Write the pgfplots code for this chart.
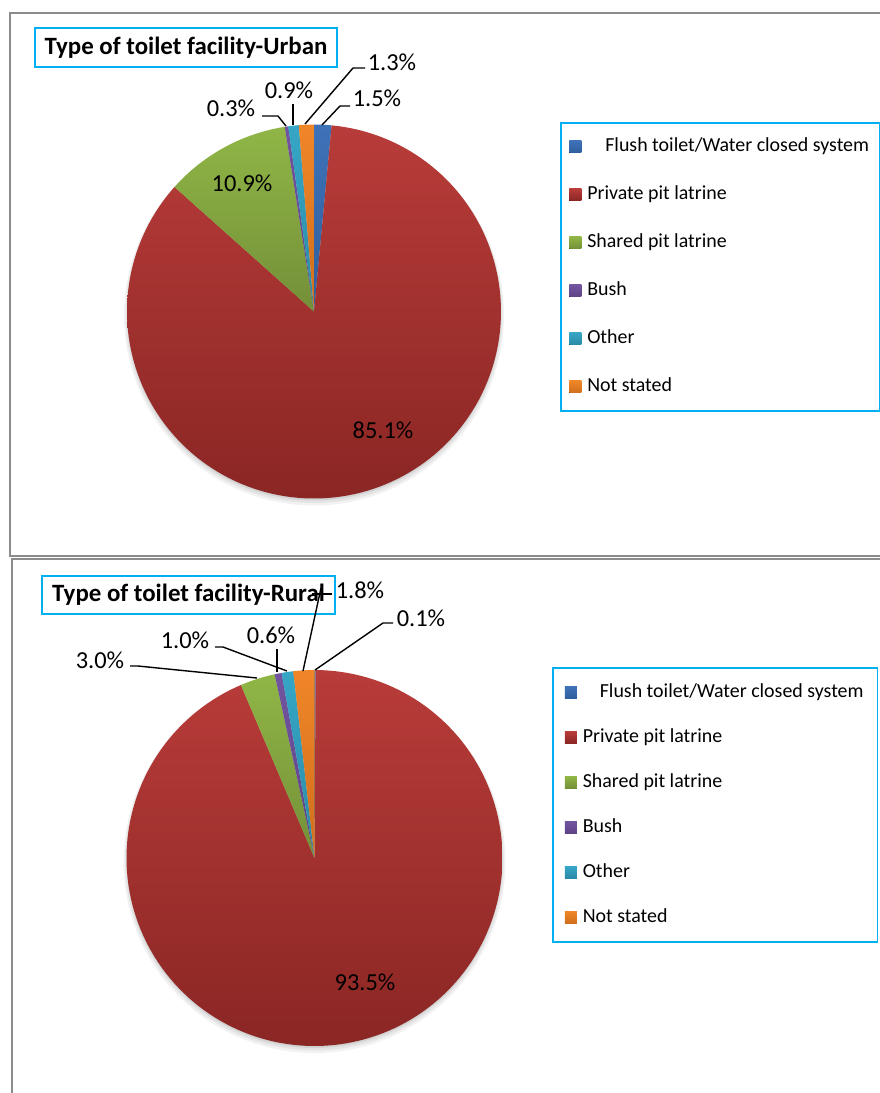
\documentclass[border=0pt]{standalone}
\usepackage{fontspec}
\setmainfont{Carlito}
\usepackage{pgfplots}
\pgfplotsset{compat=1.18}
\definecolor{cBlueT}{HTML}{3E72B8}\definecolor{cBlueB}{HTML}{2F5E9C}
\definecolor{cRedT}{HTML}{B83C39}\definecolor{cRedB}{HTML}{8A2624}
\definecolor{cGreenT}{HTML}{90B646}\definecolor{cGreenB}{HTML}{738F38}
\definecolor{cPurT}{HTML}{7254A0}\definecolor{cPurB}{HTML}{5E4386}
\definecolor{cTealT}{HTML}{36A6C6}\definecolor{cTealB}{HTML}{2A8AA6}
\definecolor{cOrT}{HTML}{F08628}\definecolor{cOrB}{HTML}{CF6E1C}
\definecolor{boxcyan}{HTML}{00B0F0}
\definecolor{panelgray}{HTML}{8C8C8C}

% cx cy r cumulative-before value colorTop colorBottom
\newcommand\pieslice[7]{%
 \pgfmathsetmacro\aS{90-3.6*#4}%
 \pgfmathsetmacro\aE{90-3.6*(#4+#5)}%
 \pgfmathtruncatemacro\ns{max(4,ceil(1.8*#5)+2)}%
 \edef\tmp{\noexpand\addplot[draw=none, top color=#6, bottom color=#7, domain=\aE:\aS, samples=\ns] ({#1+#3*cos(x)},{#2-#3*sin(x)}) -- (axis cs:#1,#2) -- cycle;}%
 \tmp}
\newcommand\pieshadow[3]{%
 \addplot[forget plot, draw=none, fill=black, fill opacity=0.05, domain=0:360, samples=121] ({#1+(#3+3)*cos(x)},{#2+4-(#3+3)*sin(x)}) -- cycle;
 \addplot[forget plot, draw=none, fill=black, fill opacity=0.06, domain=0:360, samples=121] ({#1+(#3+1.5)*cos(x)},{#2+3-(#3+1.5)*sin(x)}) -- cycle;
 \addplot[forget plot, draw=none, fill=black, fill opacity=0.08, domain=0:360, samples=121] ({#1+#3*cos(x)},{#2+2-#3*sin(x)}) -- cycle;
}
\newcommand\lbl{\fontsize{24.5}{29}\selectfont}
\tikzset{lead/.style={black, line width=1.4bp}}

\begin{document}
\begin{tikzpicture}
% ---------------- Urban ----------------
\begin{axis}[
 at={(0,0)}, anchor=north west,
 scale only axis, width=880bp, height=557.5bp,
 xmin=0, xmax=880, ymin=0, ymax=557.5, y dir=reverse,
 hide axis, clip=false,
 legend cell align=left,
 legend image code/.code={\fill[#1] (0bp,-6bp) rectangle (12bp,6bp); \path (16bp,0bp);},
 legend style={at={(axis cs:560,122)}, anchor=north west, draw=boxcyan, line width=1.6bp,
   inner xsep=8.5bp, inner ysep=13bp, row sep=26bp, font=\fontsize{20}{24}\selectfont,
   nodes={inner sep=2bp, text height=14bp, text depth=4bp}},
]
\draw[panelgray, line width=2bp] (axis cs:880,13) -- (axis cs:10,13) -- (axis cs:10,556) -- (axis cs:880,556);
\pieshadow{314}{311.5}{187}
\pieslice{314}{311.5}{187}{0}{1.5}{cBlueT}{cBlueB}
\addlegendentry{\hspace{18bp}Flush toilet/Water closed system}
\pieslice{314}{311.5}{187}{1.5}{85.1}{cRedT}{cRedB}
\addlegendentry{Private pit latrine}
\pieslice{314}{311.5}{187}{86.6}{10.9}{cGreenT}{cGreenB}
\addlegendentry{Shared pit latrine}
\pieslice{314}{311.5}{187}{97.5}{0.3}{cPurT}{cPurB}
\addlegendentry{Bush}
\pieslice{314}{311.5}{187}{97.8}{0.9}{cTealT}{cTealB}
\addlegendentry{Other}
\pieslice{314}{311.5}{187}{98.7}{1.3}{cOrT}{cOrB}
\addlegendentry{Not stated}
\node[draw=boxcyan, line width=2bp, fill=white, minimum width=302bp, minimum height=39bp, inner sep=0pt,
  font=\bfseries\fontsize{25}{30}\selectfont] at (axis cs:186,47.5) {Type of toilet facility-Urban};
\draw[lead] (axis cs:322,125) -- (axis cs:340,106) -- (axis cs:350,106);
\draw[lead] (axis cs:305,124) -- (axis cs:353,68) -- (axis cs:365,68);
\draw[lead] (axis cs:293,125) -- (axis cs:293,104);
\draw[lead] (axis cs:286,126) -- (axis cs:278,116) -- (axis cs:262,116);
\node[font=\lbl] at (axis cs:377,98) {1.5\%};
\node[font=\lbl] at (axis cs:392,62) {1.3\%};
\node[font=\lbl] at (axis cs:289,90) {0.9\%};
\node[font=\lbl] at (axis cs:231,108) {0.3\%};
\node[font=\lbl] at (axis cs:242,183) {10.9\%};
\node[font=\lbl] at (axis cs:383,430) {85.1\%};
\end{axis}
% ---------------- Rural ----------------
\begin{axis}[
 at={(0,-557.5bp)}, anchor=north west,
 scale only axis, width=880bp, height=535.5bp,
 xmin=0, xmax=880, ymin=557.5, ymax=1093, y dir=reverse,
 hide axis, clip=false,
 legend cell align=left,
 legend image code/.code={\fill[#1] (0bp,-6bp) rectangle (12bp,6bp); \path (16bp,0bp);},
 legend style={at={(axis cs:552,667)}, anchor=north west, draw=boxcyan, line width=1.6bp,
   inner xsep=12bp, inner ysep=13.5bp, row sep=23bp, font=\fontsize{20}{24}\selectfont,
   nodes={inner sep=2bp, text height=14bp, text depth=4bp}},
]
\draw[panelgray, line width=2bp] (axis cs:880,559) -- (axis cs:12,559) -- (axis cs:12,1093);
\pieshadow{314.5}{858}{188}
\pieslice{314.5}{858}{188}{0}{0.1}{cBlueT}{cBlueB}
\addlegendentry{\hspace{17bp}Flush toilet/Water closed system}
\pieslice{314.5}{858}{188}{0.1}{93.5}{cRedT}{cRedB}
\addlegendentry{Private pit latrine}
\pieslice{314.5}{858}{188}{93.6}{3.0}{cGreenT}{cGreenB}
\addlegendentry{Shared pit latrine}
\pieslice{314.5}{858}{188}{96.6}{0.6}{cPurT}{cPurB}
\addlegendentry{Bush}
\pieslice{314.5}{858}{188}{97.2}{1.0}{cTealT}{cTealB}
\addlegendentry{Other}
\pieslice{314.5}{858}{188}{98.2}{1.8}{cOrT}{cOrB}
\addlegendentry{Not stated}
\node[draw=boxcyan, line width=2bp, fill=white, minimum width=293bp, minimum height=38bp, inner sep=0pt,
  font=\bfseries\fontsize{25}{30}\selectfont] at (axis cs:188.5,595) {Type of toilet facility-Rural};
\draw[lead] (axis cs:130,666) -- (axis cs:138,666) -- (axis cs:257,678);
\draw[lead] (axis cs:215,647) -- (axis cs:223,647) -- (axis cs:287,671);
\draw[lead] (axis cs:277,649) -- (axis cs:277,672);
\draw[lead] (axis cs:303,671) -- (axis cs:321,588);
\draw[lead] (axis cs:312,594) -- (axis cs:332,594);
\draw[lead] (axis cs:315,670) -- (axis cs:383,623) -- (axis cs:393,623);
\node[font=\lbl] at (axis cs:360,590) {1.8\%};
\node[font=\lbl] at (axis cs:421,618) {0.1\%};
\node[font=\lbl] at (axis cs:271,635) {0.6\%};
\node[font=\lbl] at (axis cs:185,640) {1.0\%};
\node[font=\lbl] at (axis cs:100,660) {3.0\%};
\node[font=\lbl] at (axis cs:365,982) {93.5\%};
\end{axis}
\pgfresetboundingbox
\path (0,0) rectangle (880bp,-1093bp);
\end{tikzpicture}
\end{document}
